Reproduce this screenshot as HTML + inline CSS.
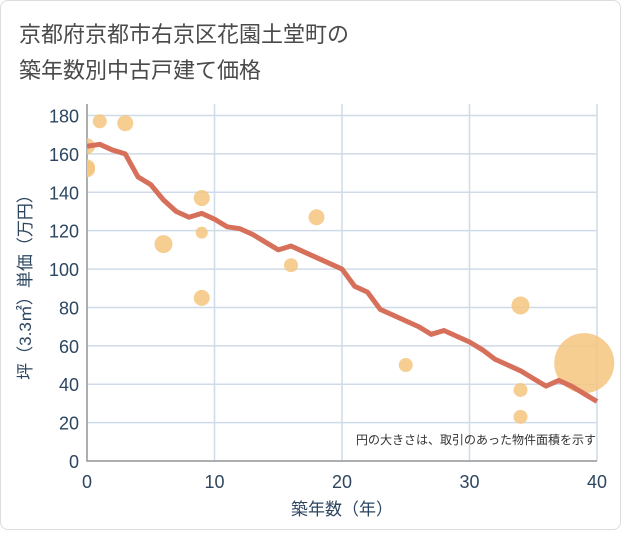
<!DOCTYPE html>
<html><head><meta charset="utf-8"><style>
body{margin:0;background:#fff;font-family:"Liberation Sans","Noto Sans CJK JP",sans-serif}
#card{position:absolute;left:0;top:0;width:619px;height:528px;border:1px solid #ddd;border-radius:8px;background:#fff}
</style></head><body>
<div id="card">
<svg width="621" height="530">
<defs><clipPath id="pc"><rect x="86" y="90" width="540" height="370"/></clipPath></defs>
<text x="18" y="41" font-size="22" fill="#4a4a4a">京都府京都市右京区花園土堂町の</text>
<text x="18" y="77" font-size="22" fill="#4a4a4a">築年数別中古戸建て価格</text>
<g id="grid"></g><g id="marks" clip-path="url(#pc)"></g>
<text x="595" y="443" font-size="12" fill="#333" text-anchor="end">円の大きさは、取引のあった物件面積を示す</text>
<text x="341" y="514" font-size="17" fill="#2d4660" text-anchor="middle">築年数（年）</text>
<text transform="translate(30,282) rotate(-90)" font-size="17" fill="#2d4660" text-anchor="middle">坪（3.3㎡）単価（万円）</text>
</svg></div>
<script>
const xTicks=[0,10,20,30,40];
const yTicks=[0,20,40,60,80,100,120,140,160,180];
const lineYears=[0,1,2,3,4,5,6,7,8,9,10,11,12,13,14,15,16,17,18,19,20,21,22,23,24,25,26,27,28,29,30,31,32,33,34,35,36,37,38,39,40];
const lineValues=[164,165,162,160,148,144,136,130,127,129,126,122,121,118,114,110,112,109,106,103,100,91,88,79,76,73,70,66,68,65,62,58,53,50,47,43,39,42,39,35,31];
const bubbleYears=[0,0,0,1,3,6,9,9,9,16,18,25,34,34,34,39];
const bubbleValues=[164,153,152,177,176,113,137,119,85,102,127,50,81,37,23,51];
const bubbleSizes=[8,8,8,7,8,9,8,6,8,7,8,7,9,7,7,30];
const L=86,R=596,T=103,B=460,YMAX=186;
const X=v=>L+(R-L)*v/40, Y=v=>B-(B-T)*v/YMAX;
const ns="http://www.w3.org/2000/svg";
function mk(t,a,p){const e=document.createElementNS(ns,t);for(const k in a)e.setAttribute(k,a[k]);p.appendChild(e);return e;}
const g=document.getElementById('grid'),m=document.getElementById('marks');
yTicks.forEach(v=>{const l=mk('line',{x1:L,x2:R,y1:Y(v),y2:Y(v),stroke:'#cfdbe8','stroke-width':1.5},g);

const t=mk('text',{x:L-8,y:Y(v)+7,'font-size':18,fill:'#2d4660','text-anchor':'end'},g);t.textContent=v;
});
xTicks.forEach(v=>{const l=mk('line',{x1:X(v),x2:X(v),y1:T,y2:B,stroke:'#cfdbe8','stroke-width':1.5},g);

const t=mk('text',{x:X(v),y:B+27,'font-size':18,fill:'#2d4660','text-anchor':'middle'},g);t.textContent=v;
});
const ax=mk('path',{d:`M${L},${T}V${B}H${R}`,fill:'none',stroke:'#999','stroke-width':1.5},g);

bubbleYears.forEach((yr,i)=>{const c=mk('circle',{cx:X(yr),cy:Y(bubbleValues[i]),r:bubbleSizes[i],fill:'#f5c57f','fill-opacity':0.85},m);
});
const p=mk('polyline',{points:lineYears.map((yr,i)=>X(yr)+','+Y(lineValues[i])).join(' '),fill:'none',stroke:'#d7705b','stroke-width':5,'stroke-linejoin':'round'},m);

</script></body></html>
